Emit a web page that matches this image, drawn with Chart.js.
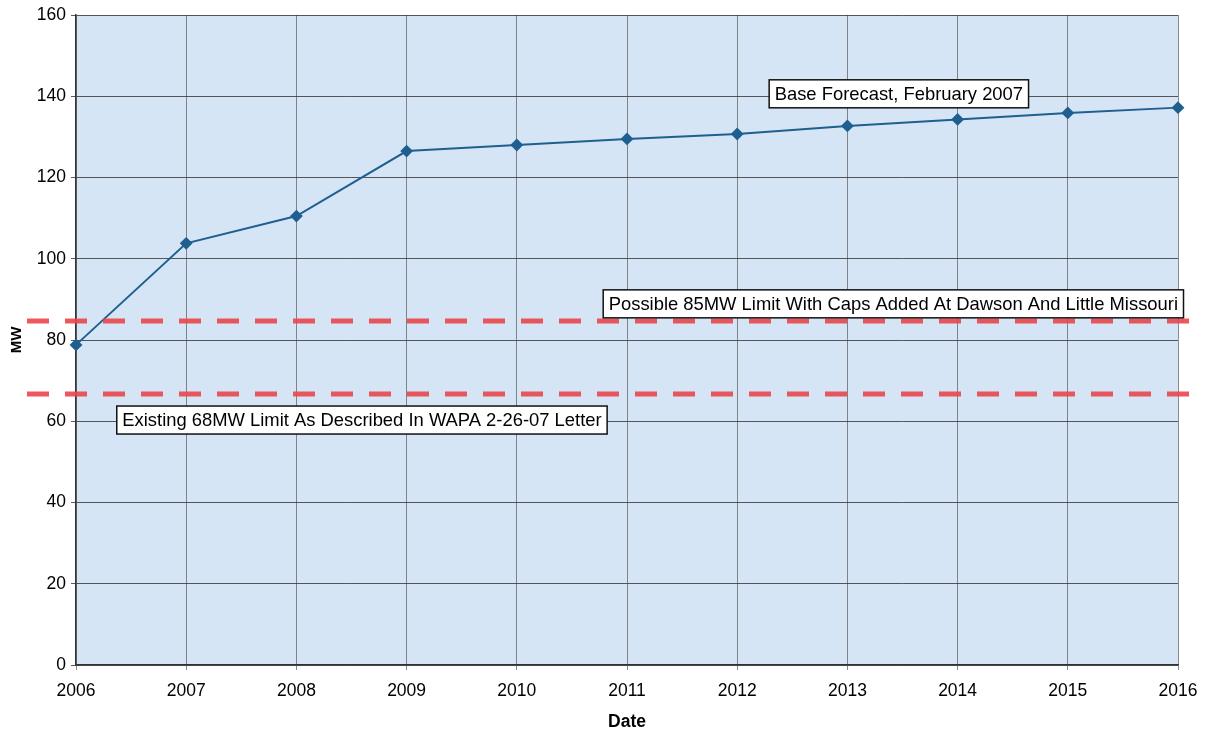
<!DOCTYPE html>
<html>
<head>
<meta charset="utf-8">
<script src="https://cdn.jsdelivr.net/npm/chart.js@4.4.1/dist/chart.umd.min.js"></script>
<style>
  html, body { margin: 0; padding: 0; background: #fff; }
  #wrap { width: 1205px; height: 731px; }
</style>
</head>
<body>
<div id="wrap"><canvas id="myChart" width="1205" height="731"></canvas></div>
<script>
// chart data
const years = ['2006', '2007', '2008', '2009', '2010', '2011', '2012', '2013', '2014', '2015', '2016'];
const baseForecast = [78.8, 103.8, 110.5, 126.5, 128.0, 129.5, 130.7, 132.7, 134.3, 135.9, 137.2];
const limitValues = [84.6, 66.8];
const yTicks = [0, 20, 40, 60, 80, 100, 120, 140, 160];

// text boxes: anchored on category index + value
const noteTexts = ['Base Forecast, February 2007',
  'Possible 85MW Limit With Caps Added At Dawson And Little Missouri',
  'Existing 68MW Limit As Described In WAPA 2-26-07 Letter'];
const noteIndex = [6.29, 10.05, 0.37];
const noteValue = [140.6, 88.9, 60.3];
const noteAlign = ['left', 'right', 'left'];

const FONT = "'Liberation Sans', Arial, sans-serif";

// light blue plot area
const plotBg = {
  id: 'plotBg',
  beforeDraw(chart) {
    const {ctx, chartArea: a} = chart;
    ctx.save();
    ctx.fillStyle = '#d5e5f5';
    ctx.fillRect(a.left, a.top, a.right - a.left, a.bottom - a.top);
    ctx.restore();
  }
};

// red dashed limit lines + the label boxes
const extras = {
  id: 'extras',
  afterDatasetsDraw(chart) {
    const {ctx, chartArea: a, scales} = chart;
    const y = scales.y, x = scales.x;
    ctx.save();
    ctx.strokeStyle = 'rgba(234,70,76,0.9)';
    ctx.lineWidth = 5;
    ctx.setLineDash([22, 16]);
    limitValues.forEach(v => {
      const py = Math.round(y.getPixelForValue(v));
      ctx.beginPath();
      ctx.moveTo(a.left - 49, py);
      ctx.lineTo(a.right + 12, py);
      ctx.stroke();
    });
    ctx.setLineDash([]);

    ctx.font = '18.4px ' + FONT;
    ctx.textBaseline = 'middle';
    noteTexts.forEach((t, i) => {
      const w = ctx.measureText(t).width + 11;
      const h = 28;
      const px = x.getPixelForValue(noteIndex[i]);
      const left = noteAlign[i] === 'left' ? px : px - w;
      const cy = y.getPixelForValue(noteValue[i]);
      ctx.fillStyle = '#fff';
      ctx.fillRect(left, cy - h / 2, w, h);
      ctx.strokeStyle = '#111';
      ctx.lineWidth = 1.5;
      ctx.strokeRect(left, cy - h / 2, w, h);
      ctx.fillStyle = '#000';
      ctx.textAlign = 'left';
      ctx.fillText(t, left + 5.5, cy + 1);
    });
    ctx.restore();
  }
};

const ctx = document.getElementById('myChart').getContext('2d');
const myChart = new Chart(ctx, {
  type: 'line',
  data: {
    labels: years,
    datasets: [{
      label: 'Base Forecast',
      data: baseForecast,
      borderColor: '#1f5f90',
      backgroundColor: '#1f5f90',
      borderWidth: 2,
      pointStyle: 'rectRot',
      pointRadius: 5,
      tension: 0
    }]
  },
  options: {
    responsive: false,
    animation: false,
    layout: { padding: { top: 15, right: 27, left: 0, bottom: 0 } },
    plugins: {
      legend: { display: false },
      tooltip: { enabled: false }
    },
    scales: {
      x: {
        offset: false,
        grid: { color: 'rgba(90,90,90,0.7)', lineWidth: 1, tickLength: 5 },
        border: { color: '#333', width: 1.5 },
        ticks: { color: '#000', font: { family: FONT, size: 17.5 }, padding: 11, maxRotation: 0 },
        title: { display: true, text: 'Date', color: '#000', font: { family: FONT, size: 17.5, weight: 'bold', lineHeight: 1 }, padding: { top: 0, bottom: 0 } },
        afterFit(s) { s.height = 66; s.paddingLeft = 0; s.paddingRight = 0; }
      },
      y: {
        min: 0,
        max: 160,
        afterBuildTicks(s) { s.ticks = yTicks.map(v => ({value: v})); },
        grid: { color: 'rgba(50,50,50,0.8)', lineWidth: 1, tickLength: 5 },
        border: { color: '#333', width: 1.5 },
        ticks: { color: '#000', font: { family: FONT, size: 17.5 }, padding: 5 },
        title: { display: true, text: 'MW', color: '#000', font: { family: FONT, size: 15, weight: 'bold' }, padding: { top: 7.5, bottom: 0 } },
        afterFit(s) { s.width = 76; s.paddingTop = 0; s.paddingBottom = 0; }
      }
    }
  },
  plugins: [plotBg, extras]
});
</script>
</body>
</html>
